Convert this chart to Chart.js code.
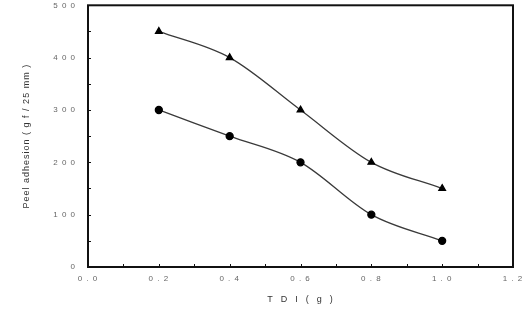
<!DOCTYPE html>
<html>
<head>
<meta charset="utf-8">
<script src="https://cdn.jsdelivr.net/npm/chart.js@4"></script>
<style>
  html, body { margin: 0; padding: 0; background: #fff; }
  #wrap { width: 526px; height: 320px; }
</style>
</head>
<body>
<div id="wrap"><canvas id="c" width="526" height="320"></canvas></div>
<script>
const tdi = [0.2, 0.4, 0.6, 0.8, 1.0];
const triangleSeries = [450, 400, 300, 200, 150];
const circleSeries = [300, 250, 200, 100, 50];
const xTicks = [0, 0.2, 0.4, 0.6, 0.8, 1.0, 1.2];
const yTicks = [0, 100, 200, 300, 400, 500];

// spaced-out digits like the original figure
const spaced = (s) => s.split("").join(" ");

// letter spacing for all text + frame + inward ticks
const framePlugin = {
  id: "frame",
  beforeDraw(chart) {
    chart.ctx.letterSpacing = "1px";
  },
  afterDraw(chart) {
    const { ctx, chartArea: a, scales } = chart;
    ctx.save();
    ctx.strokeStyle = "#111";
    ctx.lineWidth = 2;
    ctx.strokeRect(a.left, a.top, a.right - a.left, a.bottom - a.top);
    ctx.lineWidth = 1;
    ctx.beginPath();
    for (let v = 0.1; v < 1.2; v += 0.1) {
      const x = Math.round(scales.x.getPixelForValue(v)) + 0.5;
      ctx.moveTo(x, a.bottom);
      ctx.lineTo(x, a.bottom - 3);
    }
    for (let v = 50; v < 500; v += 50) {
      const y = Math.round(scales.y.getPixelForValue(v)) + 0.5;
      ctx.moveTo(a.left, y);
      ctx.lineTo(a.left + 3, y);
    }
    ctx.stroke();
    ctx.restore();
  },
};

const font = { family: "'Liberation Sans', Arial, sans-serif", size: 8 };

new Chart(document.getElementById("c"), {
  type: "line",
  data: {
    datasets: [
      {
        data: tdi.map((x, i) => ({ x: x, y: triangleSeries[i] })),
        borderColor: "#3a3a3a",
        borderWidth: 1.3,
        pointStyle: "triangle",
        pointRadius: 3.8,
        pointBackgroundColor: "#000",
        pointBorderColor: "#000",
        cubicInterpolationMode: "monotone",
        fill: false,
      },
      {
        data: tdi.map((x, i) => ({ x: x, y: circleSeries[i] })),
        borderColor: "#3a3a3a",
        borderWidth: 1.3,
        pointStyle: "circle",
        pointRadius: 3.5,
        pointBackgroundColor: "#000",
        pointBorderColor: "#000",
        cubicInterpolationMode: "monotone",
        fill: false,
      },
    ],
  },
  options: {
    responsive: false,
    animation: false,
    layout: { padding: { top: 4, right: 13, left: 0, bottom: 0 } },
    plugins: { legend: { display: false }, tooltip: { enabled: false } },
    scales: {
      x: {
        type: "linear",
        min: 0,
        max: 1.2,
        afterBuildTicks: (s) => { s.ticks = xTicks.map((v) => ({ value: v })); },
        afterFit: (s) => { s.height = 53; s.paddingLeft = 0; s.paddingRight = 0; },
        grid: { display: false, drawTicks: false },
        border: { display: false },
        ticks: {
          color: "#666",
          font: font,
          padding: 7,
          maxRotation: 0,
          callback: (v) => spaced(v.toFixed(1)),
        },
        title: {
          display: true,
          text: "T  D  I  (  g  )",
          color: "#333",
          font: { family: font.family, size: 9 },
          padding: { top: 0, bottom: 15 },
        },
      },
      y: {
        min: 0,
        max: 500,
        afterBuildTicks: (s) => { s.ticks = yTicks.map((v) => ({ value: v })); },
        afterFit: (s) => { s.width = 88; s.paddingTop = 0; s.paddingBottom = 0; },
        grid: { display: false, drawTicks: false },
        border: { display: false },
        ticks: {
          color: "#666",
          font: font,
          padding: 12,
          callback: (v) => spaced(String(v)),
        },
        title: {
          display: true,
          text: "Peel adhesion ( g f / 25 mm )",
          color: "#333",
          font: { family: font.family, size: 9 },
          padding: { top: 21, bottom: 0 },
        },
      },
    },
  },
  plugins: [framePlugin],
});
</script>
</body>
</html>
